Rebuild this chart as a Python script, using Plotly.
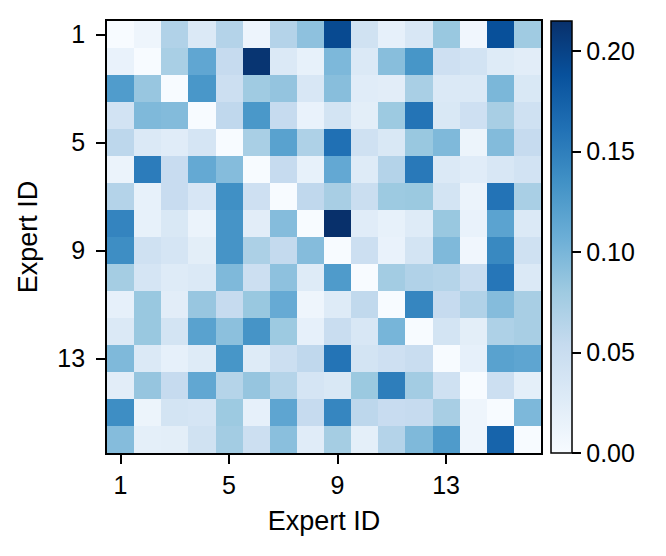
import plotly.graph_objects as go

experts = list(range(1, 17))
tick_vals = [1, 5, 9, 13]
cbar_ticks = [0.00, 0.05, 0.10, 0.15, 0.20]

row01 = [0.000, 0.010, 0.068, 0.030, 0.066, 0.011, 0.066, 0.089, 0.194, 0.042, 0.018, 0.034, 0.083, 0.008, 0.189, 0.079]
row02 = [0.015, 0.000, 0.073, 0.115, 0.054, 0.211, 0.030, 0.017, 0.098, 0.030, 0.092, 0.131, 0.045, 0.040, 0.027, 0.023]
row03 = [0.125, 0.084, 0.000, 0.130, 0.047, 0.079, 0.086, 0.034, 0.092, 0.025, 0.023, 0.073, 0.030, 0.030, 0.099, 0.032]
row04 = [0.040, 0.097, 0.095, 0.000, 0.058, 0.129, 0.054, 0.015, 0.039, 0.022, 0.081, 0.159, 0.032, 0.045, 0.074, 0.044]
row05 = [0.060, 0.030, 0.025, 0.037, 0.000, 0.073, 0.119, 0.070, 0.162, 0.044, 0.032, 0.083, 0.097, 0.012, 0.095, 0.054]
row06 = [0.013, 0.152, 0.052, 0.112, 0.094, 0.000, 0.054, 0.017, 0.113, 0.027, 0.066, 0.155, 0.030, 0.025, 0.034, 0.040]
row07 = [0.066, 0.017, 0.052, 0.035, 0.136, 0.045, 0.000, 0.058, 0.074, 0.049, 0.081, 0.082, 0.039, 0.013, 0.160, 0.073]
row08 = [0.146, 0.017, 0.032, 0.013, 0.132, 0.023, 0.094, 0.000, 0.215, 0.025, 0.017, 0.027, 0.083, 0.015, 0.118, 0.030]
row09 = [0.138, 0.044, 0.037, 0.022, 0.132, 0.071, 0.055, 0.094, 0.000, 0.047, 0.015, 0.039, 0.097, 0.008, 0.142, 0.044]
row10 = [0.076, 0.037, 0.027, 0.030, 0.097, 0.047, 0.089, 0.027, 0.126, 0.000, 0.077, 0.068, 0.065, 0.050, 0.157, 0.030]
row11 = [0.018, 0.083, 0.023, 0.084, 0.054, 0.083, 0.111, 0.010, 0.027, 0.057, 0.000, 0.144, 0.054, 0.068, 0.094, 0.074]
row12 = [0.030, 0.083, 0.039, 0.119, 0.090, 0.132, 0.081, 0.018, 0.050, 0.034, 0.101, 0.000, 0.039, 0.022, 0.070, 0.074]
row13 = [0.097, 0.030, 0.018, 0.027, 0.131, 0.027, 0.047, 0.058, 0.159, 0.039, 0.045, 0.050, 0.000, 0.018, 0.119, 0.116]
row14 = [0.023, 0.085, 0.054, 0.114, 0.065, 0.085, 0.065, 0.037, 0.032, 0.082, 0.151, 0.077, 0.044, 0.000, 0.047, 0.020]
row15 = [0.138, 0.012, 0.039, 0.037, 0.081, 0.018, 0.116, 0.054, 0.144, 0.060, 0.052, 0.054, 0.074, 0.010, 0.000, 0.098]
row16 = [0.094, 0.020, 0.022, 0.042, 0.077, 0.047, 0.091, 0.025, 0.076, 0.020, 0.066, 0.097, 0.126, 0.010, 0.172, 0.000]

z = [row01, row02, row03, row04, row05, row06, row07, row08,
     row09, row10, row11, row12, row13, row14, row15, row16]

blues = [
    [0.0, "rgb(247,251,255)"], [0.125, "rgb(222,235,247)"], [0.25, "rgb(198,219,239)"],
    [0.375, "rgb(158,202,225)"], [0.5, "rgb(107,174,214)"], [0.625, "rgb(66,146,198)"],
    [0.75, "rgb(33,113,181)"], [0.875, "rgb(8,81,156)"], [1.0, "rgb(8,48,107)"],
]

FONT = "Liberation Sans, Arial, Helvetica, sans-serif"
TICK_SIZE = 25
TITLE_SIZE = 27

fig = go.Figure(go.Heatmap(
    x=experts, y=experts, z=z,
    colorscale=blues, zmin=0, zmax=0.215,
    colorbar=dict(
        thickness=21, len=1.0, lenmode="fraction", y=0.5, yanchor="middle", ypad=0,
        x=1.023, xanchor="left", xpad=0,
        outlinewidth=1.5, outlinecolor="black",
        tickvals=cbar_ticks, tickformat=".2f",
        ticks="outside", ticklen=9, tickwidth=1.5, tickcolor="black",
        tickfont=dict(family=FONT, size=TICK_SIZE, color="black"),
    ),
))

axis_common = dict(
    tickvals=tick_vals, ticks="outside", ticklen=9, tickwidth=1.8, tickcolor="black",
    showline=True, linecolor="black", linewidth=1.8, mirror=True,
    showgrid=False, zeroline=False,
    tickfont=dict(family=FONT, size=TICK_SIZE, color="black"),
)

fig.update_layout(
    width=666, height=556,
    margin=dict(l=99, r=133, t=13, b=111, autoexpand=False),
    paper_bgcolor="white", plot_bgcolor="white",
    xaxis=dict(title=dict(text="Expert ID", font=dict(family=FONT, size=TITLE_SIZE, color="black"), standoff=13),
               range=[0.5, 16.5], **axis_common),
    yaxis=dict(title=dict(text="Expert ID", font=dict(family=FONT, size=TITLE_SIZE, color="black"), standoff=12),
               range=[16.5, 0.5], ticklabelstandoff=6, **axis_common),
)

fig.write_html("out.html")
